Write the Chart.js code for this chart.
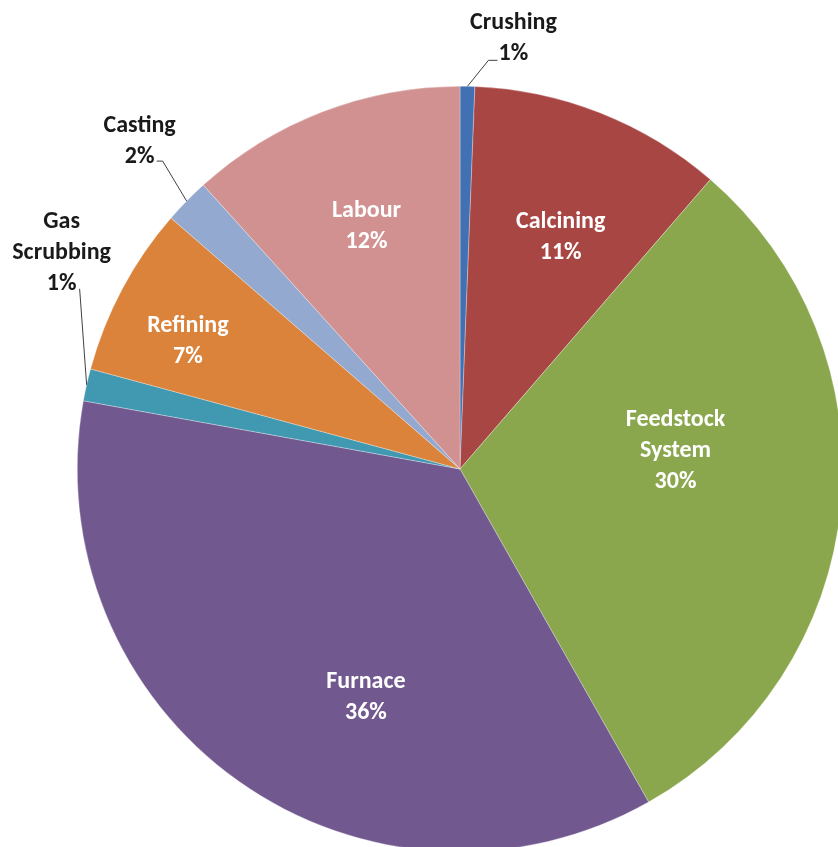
<!DOCTYPE html>
<html>
<head>
<meta charset="utf-8">
<script src="https://cdn.jsdelivr.net/npm/chart.js@4.4.1/dist/chart.umd.min.js"></script>
<style>
  html, body { margin: 0; padding: 0; background: #ffffff; overflow: hidden; }
  #wrap { position: absolute; left: 0; top: 0; width: 920px; height: 940px; }
</style>
</head>
<body>
<div id="wrap"><canvas id="pieChart"></canvas></div>
<script>
// Cost breakdown (percent of total), clockwise from 12 o'clock
const categories = ['Crushing', 'Calcining', 'Feedstock System', 'Furnace', 'Gas Scrubbing', 'Refining', 'Casting', 'Labour'];
const shares = [0.62, 10.73, 30.45, 36.05, 1.36, 7.17, 1.92, 11.70];
const labelLines = [['Crushing'], ['Calcining'], ['Feedstock', 'System'], ['Furnace'], ['Gas', 'Scrubbing'], ['Refining'], ['Casting'], ['Labour']];

const sliceColors = ['#4271B3', '#A84644', '#8BA74E', '#71588F', '#4199B1', '#DB833A', '#93A9D0', '#D09190'];

// label placement: inside labels use a point in the slice (fraction of angle, fraction of radius),
// outside labels hang off the rim with a leader line
const labelPlace = [
    { out: true, elbow: [21, -26], end: [30, -26], text: [46, -48] },
    { at: 0.55, r: 0.66 },
    { at: 0.405, r: 0.565 },
    { at: 0.40, r: 0.645 },
    { out: true, elbow: [-7, -96], end: [-7, -96], text: [-25, -132] },
    { at: 0.385, r: 0.785 },
    { out: true, elbow: [-24, -40], end: [-30, -40], text: [-47, -60] },
    { at: 0.50, r: 0.68 }
];

const LINE_H = 31;

const sliceLabels = {
    id: 'sliceLabels',
    afterDatasetsDraw(chart) {
        const ctx = chart.ctx;
        const meta = chart.getDatasetMeta(0);
        ctx.save();
        ctx.font = 'bold 24px Carlito, Lato, "Open Sans", sans-serif';
        ctx.textAlign = 'center';
        ctx.textBaseline = 'middle';
        meta.data.forEach((arc, i) => {
            const p = arc.getProps(['x', 'y', 'startAngle', 'endAngle', 'outerRadius'], true);
            const place = labelPlace[i];
            const lines = labelLines[i].concat([Math.round(shares[i]) + '%']);
            let cx, cy;
            if (place.out) {
                const mid = (p.startAngle + p.endAngle) / 2;
                const ex = p.x + p.outerRadius * Math.cos(mid);
                const ey = p.y + p.outerRadius * Math.sin(mid);
                ctx.strokeStyle = '#404040';
                ctx.lineWidth = 1;
                ctx.beginPath();
                ctx.moveTo(ex, ey);
                ctx.lineTo(ex + place.elbow[0], ey + place.elbow[1]);
                ctx.lineTo(ex + place.end[0], ey + place.end[1]);
                ctx.stroke();
                cx = ex + place.text[0];
                cy = ey + place.text[1];
                ctx.fillStyle = '#1a1a1a';
            } else {
                const a = p.startAngle + (p.endAngle - p.startAngle) * place.at;
                cx = p.x + p.outerRadius * place.r * Math.cos(a);
                cy = p.y + p.outerRadius * place.r * Math.sin(a);
                ctx.fillStyle = '#ffffff';
            }
            const top = cy - (lines.length - 1) * LINE_H / 2;
            lines.forEach((t, k) => ctx.fillText(t, cx, top + k * LINE_H));
        });
        ctx.restore();
    }
};

const pieCtx = document.getElementById('pieChart').getContext('2d');
new Chart(pieCtx, {
    type: 'pie',
    data: {
        labels: categories,
        datasets: [{
            data: shares,
            backgroundColor: sliceColors,
            borderColor: 'rgba(255,255,255,0.6)',
            borderWidth: 0.5
        }]
    },
    options: {
        responsive: true,
        maintainAspectRatio: false,
        animation: false,
        layout: { padding: { left: 77, top: 86, right: 77, bottom: 88 } },
        plugins: {
            legend: { display: false },
            tooltip: { enabled: false }
        }
    },
    plugins: [sliceLabels]
});
</script>
</body>
</html>
